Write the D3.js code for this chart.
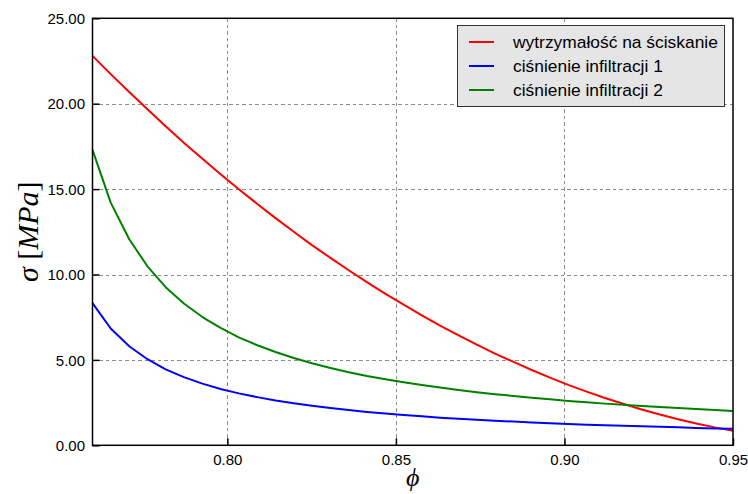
<!DOCTYPE html>
<html>
<head>
<meta charset="utf-8">
<script src="https://cdn.jsdelivr.net/npm/d3@7"></script>
<style>
  html, body { margin: 0; padding: 0; background: #ffffff; }
  svg { display: block; }
  .tick text { font-family: "Liberation Sans", Arial, sans-serif; }
</style>
</head>
<body>
<svg id="chart" width="748" height="494"></svg>
<script>
// Porosity samples (phi)
const phi = [
  0.7600, 0.7654, 0.7709, 0.7763, 0.7817, 0.7871, 0.7926, 0.7980, 0.8034,
  0.8089, 0.8143, 0.8197, 0.8251, 0.8306, 0.8360, 0.8414, 0.8469, 0.8523,
  0.8577, 0.8631, 0.8686, 0.8740, 0.8794, 0.8849, 0.8903, 0.8957, 0.9011,
  0.9066, 0.9120, 0.9174, 0.9229, 0.9283, 0.9337, 0.9391, 0.9446, 0.9500
];

// Compressive strength [MPa]
const strength = [
  22.80, 21.73, 20.68, 19.67, 18.68, 17.72, 16.78, 15.87, 14.99,
  14.13, 13.30, 12.50, 11.72, 10.97, 10.25, 9.55, 8.87, 8.23,
  7.61, 7.01, 6.44, 5.89, 5.37, 4.88, 4.41, 3.96, 3.54,
  3.14, 2.77, 2.43, 2.10, 1.80, 1.53, 1.28, 1.05, 0.85
];

// Infiltration pressure, case 1 [MPa]
const infil1 = [
  8.32, 6.84, 5.80, 5.04, 4.45, 3.99, 3.61, 3.30, 3.04,
  2.82, 2.62, 2.46, 2.31, 2.18, 2.06, 1.95, 1.86, 1.77,
  1.70, 1.62, 1.56, 1.50, 1.44, 1.39, 1.34, 1.29, 1.25,
  1.21, 1.18, 1.14, 1.11, 1.08, 1.05, 1.02, 0.99, 0.97
];

// Infiltration pressure, case 2 [MPa]
const infil2 = [
  17.30, 14.21, 12.06, 10.48, 9.26, 8.30, 7.51, 6.87, 6.32,
  5.86, 5.46, 5.11, 4.80, 4.53, 4.28, 4.06, 3.87, 3.69,
  3.53, 3.38, 3.24, 3.11, 2.99, 2.89, 2.79, 2.69, 2.60,
  2.52, 2.44, 2.37, 2.30, 2.24, 2.18, 2.12, 2.06, 2.01
];

const xTicks = [0.80, 0.85, 0.90, 0.95];
const yTicks = [0, 5, 10, 15, 20, 25];

const seriesNames = [
  "wytrzymałość na ściskanie",
  "ciśnienie infiltracji 1",
  "ciśnienie infiltracji 2"
];
const seriesColors = ["#ff0000", "#0000ff", "#008000"];
const seriesValues = [strength, infil1, infil2];

const margin = { left: 92.5, right: 733, top: 18.3, bottom: 445.3 };

const svg = d3.select("#chart");

const x = d3.scaleLinear().domain([0.76, 0.95]).range([margin.left, margin.right]);
const y = d3.scaleLinear().domain([0, 25]).range([margin.bottom, margin.top]);

// grid
const grid = svg.append("g")
  .attr("stroke", "#8c8c8c")
  .attr("stroke-width", 1)
  .attr("stroke-dasharray", "3.5,3")
  .attr("shape-rendering", "crispEdges");
grid.selectAll("line.gx")
  .data(xTicks.filter(v => v < 0.95))
  .join("line")
  .attr("x1", d => Math.round(x(d)) + 0.5).attr("x2", d => Math.round(x(d)) + 0.5)
  .attr("y1", margin.top).attr("y2", margin.bottom);
grid.selectAll("line.gy")
  .data(yTicks.filter(v => v > 0 && v < 25))
  .join("line")
  .attr("x1", margin.left).attr("x2", margin.right)
  .attr("y1", d => Math.round(y(d)) + 0.5).attr("y2", d => Math.round(y(d)) + 0.5);

// data lines
const line = d3.line()
  .x((d, i) => x(phi[i]))
  .y(d => y(d));

svg.append("g")
  .selectAll("path")
  .data(seriesValues)
  .join("path")
  .attr("fill", "none")
  .attr("stroke", (d, i) => seriesColors[i])
  .attr("stroke-width", 2)
  .attr("stroke-linejoin", "round")
  .attr("d", line);

// axes with inward ticks
const xAxis = d3.axisTop(x).tickValues(xTicks).tickFormat(d3.format(".2f"))
  .tickSize(7).tickPadding(-27);
const yAxis = d3.axisRight(y).tickValues(yTicks).tickFormat(d3.format(".2f"))
  .tickSize(7).tickPadding(-50);

const gx = svg.append("g")
  .attr("transform", `translate(0,${margin.bottom})`)
  .call(xAxis);
gx.select(".domain").remove();
gx.selectAll(".tick line").attr("stroke", "#000").attr("stroke-width", 1.5);
gx.selectAll(".tick text")
  .attr("fill", "#000")
  .attr("font-size", 15)
  .attr("text-anchor", "middle")
  .attr("dy", 0)
  .attr("y", 20);

const gy = svg.append("g")
  .attr("transform", `translate(${margin.left},0)`)
  .call(yAxis);
gy.select(".domain").remove();
gy.selectAll(".tick line").attr("stroke", "#000").attr("stroke-width", 1.5);
gy.selectAll(".tick text")
  .attr("fill", "#000")
  .attr("font-size", 15)
  .attr("text-anchor", "end")
  .attr("x", -7.5)
  .attr("dy", "0.35em");

// frame
svg.append("rect")
  .attr("x", margin.left).attr("y", margin.top)
  .attr("width", margin.right - margin.left)
  .attr("height", margin.bottom - margin.top)
  .attr("fill", "none")
  .attr("stroke", "#000")
  .attr("stroke-width", 1.5);

// axis titles
svg.append("text")
  .attr("x", x(0.855))
  .attr("y", 486)
  .attr("text-anchor", "middle")
  .attr("font-family", "'Liberation Serif', 'DejaVu Serif', serif")
  .attr("font-style", "italic")
  .attr("font-size", 26)
  .text("ϕ");

const yt = svg.append("text")
  .attr("transform", `translate(38,${(margin.top + margin.bottom) / 2}) rotate(-90)`)
  .attr("text-anchor", "middle")
  .attr("font-family", "'Liberation Serif', 'DejaVu Serif', serif")
  .attr("font-size", 30);
yt.append("tspan").attr("font-style", "italic").text("σ");
yt.append("tspan").text(" [");
yt.append("tspan").attr("font-style", "italic").text("MPa");
yt.append("tspan").text("]");

// legend
const legend = svg.append("g");
legend.append("rect")
  .attr("x", 457.5).attr("y", 25.5)
  .attr("width", 267).attr("height", 81)
  .attr("fill", "#e5e5e5")
  .attr("stroke", "#333")
  .attr("stroke-width", 1);
const rows = legend.selectAll("g.row")
  .data(seriesNames)
  .join("g")
  .attr("transform", (d, i) => `translate(0,${42 + i * 24})`);
rows.append("line")
  .attr("x1", 469).attr("x2", 494)
  .attr("y1", 0).attr("y2", 0)
  .attr("stroke", (d, i) => seriesColors[i])
  .attr("stroke-width", 2);
rows.append("text")
  .attr("x", 513)
  .attr("y", 0)
  .attr("dy", "0.35em")
  .attr("font-family", "'Liberation Sans', Arial, sans-serif")
  .attr("font-size", 17.4)
  .attr("fill", "#000")
  .text(d => d);
</script>
</body>
</html>
